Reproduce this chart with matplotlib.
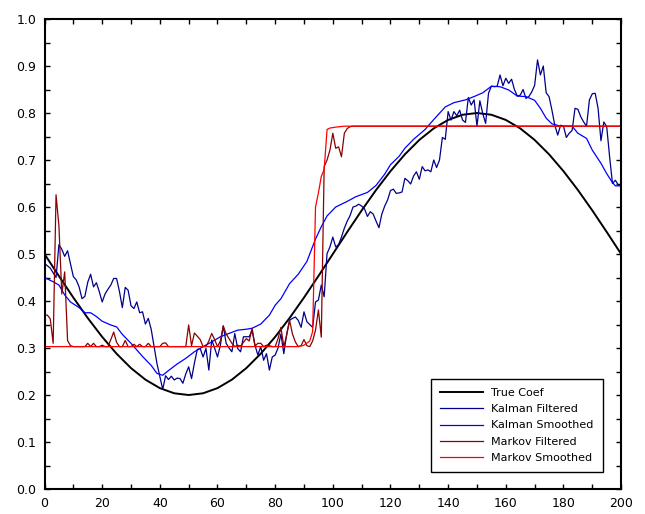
import numpy as np
import matplotlib
matplotlib.use("Agg")
import matplotlib.pyplot as plt
from matplotlib.ticker import MultipleLocator, FormatStrFormatter

# true time-varying coefficient, sampled every 5 steps
true_x = list(range(0, 201, 5))
true_coef = [
    0.5000, 0.4531, 0.4073, 0.3638, 0.3237, 0.2879, 0.2573, 0.2327, 0.2147, 0.2037,
    0.2000, 0.2037, 0.2147, 0.2327, 0.2573, 0.2879, 0.3237, 0.3638, 0.4073, 0.4531,
    0.5000, 0.5469, 0.5927, 0.6362, 0.6763, 0.7121, 0.7427, 0.7673, 0.7853, 0.7963,
    0.8000, 0.7963, 0.7853, 0.7673, 0.7427, 0.7121, 0.6763, 0.6362, 0.5927, 0.5469,
    0.5000,
]

# Kalman filter estimate, t = 0..200
kalman_filt = [
    0.480, 0.475, 0.470, 0.460, 0.450, 0.520, 0.510, 0.495, 0.507, 0.480,
    0.452, 0.445, 0.430, 0.405, 0.410, 0.440, 0.457, 0.430, 0.439, 0.420,
    0.398, 0.415, 0.425, 0.434, 0.448, 0.448, 0.420, 0.386, 0.429, 0.423,
    0.390, 0.384, 0.398, 0.375, 0.377, 0.351, 0.363, 0.340, 0.303, 0.267,
    0.239, 0.212, 0.241, 0.233, 0.240, 0.232, 0.236, 0.235, 0.225, 0.245,
    0.260, 0.235, 0.268, 0.297, 0.299, 0.281, 0.299, 0.253, 0.317, 0.300,
    0.281, 0.306, 0.347, 0.310, 0.300, 0.292, 0.331, 0.299, 0.292, 0.324,
    0.324, 0.324, 0.338, 0.306, 0.285, 0.303, 0.274, 0.288, 0.253, 0.281,
    0.285, 0.300, 0.330, 0.288, 0.330, 0.359, 0.363, 0.366, 0.359, 0.344,
    0.377, 0.356, 0.350, 0.344, 0.398, 0.402, 0.434, 0.409, 0.501, 0.515,
    0.536, 0.515, 0.520, 0.536, 0.555, 0.570, 0.582, 0.600, 0.602, 0.606,
    0.602, 0.596, 0.580, 0.590, 0.585, 0.570, 0.556, 0.585, 0.602, 0.615,
    0.635, 0.638, 0.629, 0.630, 0.632, 0.661, 0.656, 0.649, 0.666, 0.675,
    0.659, 0.686, 0.677, 0.679, 0.675, 0.700, 0.684, 0.700, 0.748, 0.744,
    0.803, 0.785, 0.803, 0.794, 0.806, 0.785, 0.780, 0.833, 0.817, 0.828,
    0.772, 0.826, 0.799, 0.778, 0.842, 0.857, 0.856, 0.857, 0.881, 0.858,
    0.874, 0.863, 0.872, 0.850, 0.836, 0.838, 0.850, 0.831, 0.835, 0.845,
    0.859, 0.913, 0.881, 0.900, 0.843, 0.835, 0.806, 0.774, 0.753, 0.774,
    0.772, 0.748, 0.757, 0.763, 0.810, 0.808, 0.792, 0.781, 0.772, 0.828,
    0.841, 0.842, 0.810, 0.741, 0.781, 0.771, 0.707, 0.650, 0.657, 0.647,
    0.645,
]

# Kalman smoother estimate
ks_x = [0, 3, 5, 7, 9, 12, 14, 16, 18, 20, 23, 25, 27, 30, 32, 34, 37, 39, 41, 43,
        46, 49, 52, 55, 58, 61, 64, 67, 70, 72, 75, 78, 80, 82, 85, 88, 91, 94, 96, 98,
        101, 105, 108, 112, 115, 118, 120, 123, 125, 128, 132, 135, 139, 142, 146, 149,
        152, 155, 158, 161, 164, 167, 170, 172, 174, 176, 179, 183, 185, 188, 190, 193,
        195, 197, 198, 200]
kalman_smooth = [0.450, 0.441, 0.434, 0.413, 0.398, 0.386, 0.375, 0.375, 0.367, 0.357,
                 0.349, 0.345, 0.329, 0.310, 0.296, 0.282, 0.263, 0.246, 0.242, 0.252,
                 0.266, 0.278, 0.292, 0.303, 0.313, 0.324, 0.331, 0.338, 0.340, 0.342,
                 0.351, 0.370, 0.391, 0.405, 0.437, 0.457, 0.484, 0.532, 0.558, 0.581,
                 0.600, 0.612, 0.622, 0.631, 0.646, 0.670, 0.690, 0.708, 0.725, 0.744,
                 0.765, 0.786, 0.813, 0.822, 0.828, 0.835, 0.843, 0.857, 0.856, 0.849,
                 0.836, 0.835, 0.827, 0.810, 0.789, 0.777, 0.772, 0.772, 0.757, 0.746,
                 0.721, 0.693, 0.671, 0.652, 0.645, 0.645]

# Markov switching filter estimate (flat at the high regime after t=110)
mf_x = list(range(110)) + [200]
markov_filt = [
    0.370, 0.370, 0.362, 0.310, 0.626, 0.560, 0.415, 0.462, 0.316, 0.305,
    0.303, 0.303, 0.303, 0.303, 0.303, 0.310, 0.303, 0.310, 0.303, 0.303,
    0.306, 0.303, 0.303, 0.318, 0.334, 0.312, 0.303, 0.303, 0.316, 0.303,
    0.303, 0.308, 0.303, 0.308, 0.303, 0.303, 0.310, 0.303, 0.303, 0.303,
    0.303, 0.310, 0.311, 0.303, 0.303, 0.303, 0.303, 0.303, 0.303, 0.303,
    0.349, 0.305, 0.332, 0.325, 0.318, 0.303, 0.303, 0.315, 0.331, 0.318,
    0.303, 0.315, 0.347, 0.330, 0.320, 0.310, 0.303, 0.306, 0.304, 0.312,
    0.320, 0.315, 0.342, 0.304, 0.310, 0.310, 0.303, 0.306, 0.305, 0.303,
    0.303, 0.320, 0.344, 0.303, 0.327, 0.359, 0.330, 0.313, 0.303, 0.305,
    0.318, 0.305, 0.303, 0.315, 0.338, 0.381, 0.323, 0.686, 0.700, 0.721,
    0.757, 0.725, 0.728, 0.707, 0.757, 0.767, 0.771, 0.772, 0.772, 0.772,
    0.772,
]

# Markov switching smoother estimate
ms_x = [0, 88, 90, 92, 93, 94, 95, 96, 97, 98, 99, 101, 104, 200]
markov_smooth = [0.303, 0.303, 0.306, 0.315, 0.335, 0.600, 0.630, 0.665, 0.680,
                 0.765, 0.768, 0.770, 0.772, 0.772]

plt.rcParams['font.family'] = ['DejaVu Sans']

fig = plt.figure(figsize=(6.45, 5.14), dpi=100)
ax = fig.add_axes([0.069, 0.0486, 0.894, 0.9144])

t = np.arange(len(kalman_filt))
ax.plot(true_x, true_coef, color="black", lw=1.4, label="True Coef")
ax.plot(t, kalman_filt, color="#00008B", lw=0.9, label="Kalman Filtered")
ax.plot(ks_x, kalman_smooth, color="#0000FF", lw=0.9, label="Kalman Smoothed")
ax.plot(mf_x, markov_filt, color="#8B0000", lw=0.9, label="Markov Filtered")
ax.plot(ms_x, markov_smooth, color="#FF0000", lw=0.9, label="Markov Smoothed")

ax.set_xlim(0, 200)
ax.set_ylim(0, 1.0)
ax.xaxis.set_major_locator(MultipleLocator(20))
ax.xaxis.set_minor_locator(MultipleLocator(10))
ax.yaxis.set_major_locator(MultipleLocator(0.1))
ax.yaxis.set_minor_locator(MultipleLocator(0.05))
ax.yaxis.set_major_formatter(FormatStrFormatter("%.1f"))
ax.tick_params(which="both", direction="in", top=True, right=True,
               length=3.5, width=1.0, labelsize=9)
ax.tick_params(axis="both", pad=6)
for sp in ax.spines.values():
    sp.set_linewidth(1.5)

leg = ax.legend(loc="lower right", bbox_to_anchor=(0.969, 0.036), fontsize=8,
                frameon=True, fancybox=False, edgecolor="black", framealpha=1,
                handlelength=3.8, handletextpad=0.8, labelspacing=0.55,
                borderpad=0.85, borderaxespad=0)
leg.get_frame().set_linewidth(1.0)

fig.savefig("out.png", dpi=100)
